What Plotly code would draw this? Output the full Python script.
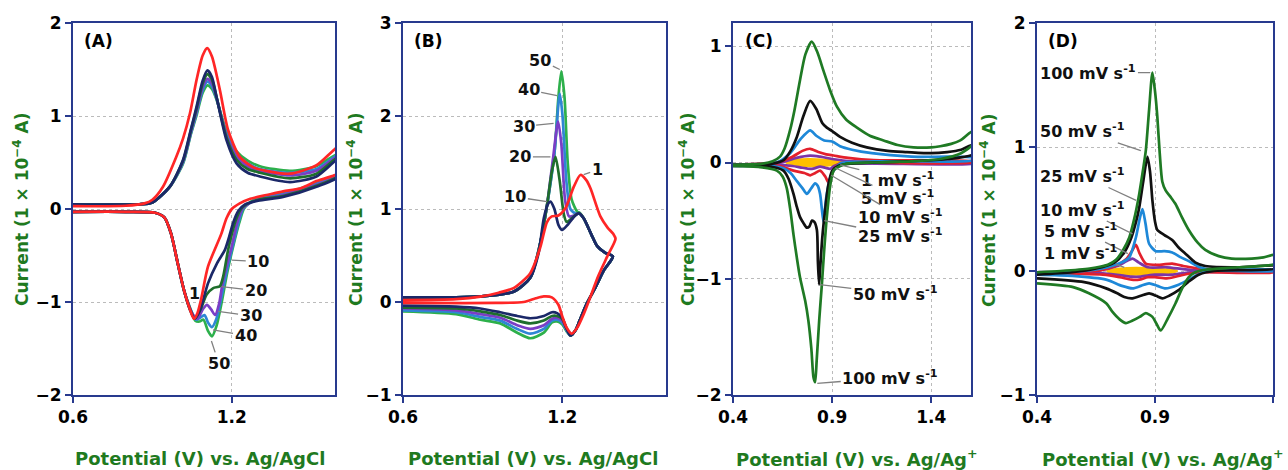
import plotly.graph_objects as go

# ---------------- Panel A (V vs Ag/AgCl, current in 1e-4 A) ----------------
a_rates = ["50", "40", "30", "20", "10", "1"]
a_1 = [(0.60, 0.03), (0.80, 0.035), (0.87, 0.06), (0.90, 0.10), (0.94, 0.24), (0.99, 0.56), (1.016, 0.76),
       (1.042, 1.03), (1.067, 1.39), (1.09, 1.65), (1.107, 1.73), (1.125, 1.64), (1.155, 1.28), (1.186, 0.85),
       (1.23, 0.56), (1.28, 0.45), (1.33, 0.41), (1.42, 0.38), (1.52, 0.47), (1.61, 0.68),
       (1.61, 0.40), (1.52, 0.30), (1.457, 0.22), (1.394, 0.19), (1.331, 0.15), (1.27, 0.11), (1.23, 0.06),
       (1.20, 0.0), (1.18, -0.10), (1.16, -0.27), (1.11, -0.62), (1.085, -0.96), (1.07, -1.12), (1.057, -1.18),
       (1.042, -1.08), (1.02, -0.88), (0.997, -0.60), (0.97, -0.26), (0.945, -0.09), (0.91, -0.04),
       (0.80, -0.03), (0.60, -0.03)]
a_10 = [(0.60, 0.05), (0.85, 0.05), (0.90, 0.07), (0.966, 0.24), (1.016, 0.53), (1.045, 0.85), (1.067, 1.10),
        (1.09, 1.38), (1.108, 1.49), (1.125, 1.42), (1.142, 1.21), (1.18, 0.74), (1.218, 0.49), (1.26, 0.39),
        (1.306, 0.35), (1.42, 0.29), (1.52, 0.35), (1.61, 0.55),
        (1.61, 0.36), (1.52, 0.24), (1.394, 0.13), (1.30, 0.09), (1.25, 0.05), (1.225, -0.02), (1.205, -0.15),
        (1.19, -0.30), (1.174, -0.44), (1.145, -0.58), (1.11, -0.80), (1.082, -1.07), (1.06, -1.18),
        (1.042, -1.08), (1.02, -0.88), (0.997, -0.60), (0.97, -0.26), (0.945, -0.09), (0.91, -0.04),
        (0.80, -0.03), (0.60, -0.03)]
a_20 = [(0.60, 0.05), (0.85, 0.05), (0.90, 0.07), (0.966, 0.24), (1.016, 0.52), (1.045, 0.84), (1.067, 1.08),
        (1.09, 1.35), (1.108, 1.45), (1.125, 1.39), (1.142, 1.21), (1.18, 0.77), (1.218, 0.53), (1.26, 0.43),
        (1.306, 0.39), (1.42, 0.33), (1.52, 0.38), (1.61, 0.57),
        (1.61, 0.37), (1.52, 0.25), (1.394, 0.14), (1.30, 0.10), (1.255, 0.05), (1.235, 0.0), (1.215, -0.12),
        (1.20, -0.27), (1.186, -0.44), (1.168, -0.72), (1.155, -0.83), (1.13, -0.85), (1.105, -0.92),
        (1.082, -1.08), (1.06, -1.18),
        (1.042, -1.08), (1.02, -0.88), (0.997, -0.60), (0.97, -0.26), (0.945, -0.09), (0.91, -0.04),
        (0.80, -0.03), (0.60, -0.03)]
a_30 = [(0.60, 0.05), (0.85, 0.05), (0.90, 0.07), (0.966, 0.24), (1.016, 0.51), (1.045, 0.82), (1.067, 1.05),
        (1.09, 1.31), (1.108, 1.40), (1.125, 1.35), (1.142, 1.20), (1.18, 0.79), (1.218, 0.56), (1.26, 0.46),
        (1.306, 0.41), (1.42, 0.36), (1.52, 0.41), (1.61, 0.58),
        (1.61, 0.38), (1.52, 0.26), (1.394, 0.15), (1.30, 0.10), (1.26, 0.05), (1.24, 0.0), (1.22, -0.15),
        (1.20, -0.40), (1.18, -0.62), (1.165, -0.80), (1.152, -1.02), (1.137, -1.14), (1.122, -1.08),
        (1.106, -1.03), (1.09, -1.08), (1.07, -1.18),
        (1.05, -1.12), (1.02, -0.88), (0.997, -0.60), (0.97, -0.26), (0.945, -0.09), (0.91, -0.04),
        (0.80, -0.03), (0.60, -0.03)]
a_40 = [(0.60, 0.05), (0.85, 0.05), (0.90, 0.07), (0.966, 0.24), (1.016, 0.50), (1.045, 0.81), (1.067, 1.03),
        (1.09, 1.28), (1.108, 1.37), (1.125, 1.32), (1.142, 1.19), (1.18, 0.81), (1.218, 0.59), (1.26, 0.49),
        (1.306, 0.43), (1.42, 0.39), (1.52, 0.43), (1.61, 0.59),
        (1.61, 0.39), (1.52, 0.27), (1.394, 0.16), (1.30, 0.11), (1.26, 0.05), (1.242, 0.0), (1.225, -0.15),
        (1.205, -0.38), (1.18, -0.68), (1.16, -0.96), (1.142, -1.18), (1.125, -1.27), (1.11, -1.22),
        (1.097, -1.14), (1.08, -1.17), (1.065, -1.19),
        (1.05, -1.12), (1.02, -0.88), (0.997, -0.60), (0.97, -0.26), (0.945, -0.09), (0.91, -0.04),
        (0.80, -0.03), (0.60, -0.03)]
a_50 = [(0.60, 0.05), (0.85, 0.05), (0.90, 0.07), (0.966, 0.24), (1.016, 0.49), (1.045, 0.80), (1.067, 1.01),
        (1.09, 1.25), (1.108, 1.33), (1.125, 1.29), (1.142, 1.18), (1.18, 0.83), (1.218, 0.62), (1.26, 0.52),
        (1.306, 0.46), (1.42, 0.41), (1.52, 0.46), (1.61, 0.60),
        (1.61, 0.40), (1.52, 0.28), (1.394, 0.17), (1.30, 0.12), (1.26, 0.05), (1.245, 0.0), (1.228, -0.15),
        (1.207, -0.38), (1.183, -0.68), (1.162, -1.00), (1.142, -1.26), (1.125, -1.37), (1.11, -1.31),
        (1.093, -1.19), (1.078, -1.21), (1.062, -1.20),
        (1.05, -1.12), (1.02, -0.88), (0.997, -0.60), (0.97, -0.26), (0.945, -0.09), (0.91, -0.04),
        (0.80, -0.03), (0.60, -0.03)]

# ---------------- Panel B ----------------
b_1 = [(0.60, 0.02), (0.80, 0.03), (0.891, 0.057), (0.96, 0.10), (1.016, 0.15), (1.079, 0.31), (1.117, 0.59),
       (1.142, 0.86), (1.16, 0.92), (1.185, 0.93), (1.212, 1.01), (1.243, 1.24), (1.268, 1.366), (1.29, 1.31),
       (1.306, 1.22), (1.343, 0.92), (1.37, 0.80), (1.392, 0.73), (1.40, 0.68),
       (1.369, 0.49), (1.335, 0.28), (1.306, 0.06), (1.28, -0.13), (1.255, -0.28), (1.235, -0.34),
       (1.215, -0.27), (1.199, -0.15), (1.185, -0.03), (1.16, 0.05), (1.13, 0.06), (1.10, 0.04), (1.054, 0.0),
       (0.95, -0.01), (0.60, -0.01)]
b_10 = [(0.60, 0.05), (0.80, 0.05), (0.891, 0.06), (1.016, 0.11), (1.079, 0.26), (1.11, 0.52), (1.13, 0.90),
        (1.145, 1.05), (1.155, 1.08), (1.17, 1.0), (1.185, 0.83), (1.199, 0.775), (1.22, 0.83), (1.245, 0.92),
        (1.262, 0.953), (1.28, 0.90), (1.31, 0.72), (1.331, 0.60), (1.36, 0.53), (1.39, 0.49),
        (1.356, 0.34), (1.325, 0.16), (1.293, -0.01), (1.265, -0.20), (1.25, -0.30), (1.23, -0.36),
        (1.215, -0.28), (1.199, -0.17), (1.18, -0.12), (1.161, -0.11), (1.13, -0.15), (1.079, -0.175),
        (1.03, -0.15), (0.966, -0.11), (0.891, -0.07), (0.80, -0.05), (0.60, -0.04)]
b_20 = [(0.60, 0.05), (0.80, 0.05), (0.891, 0.06), (1.016, 0.11), (1.079, 0.26), (1.11, 0.55), (1.14, 1.0),
        (1.16, 1.40), (1.174, 1.56), (1.19, 1.30), (1.205, 0.95), (1.216, 0.86), (1.235, 0.90),
        (1.262, 0.955), (1.28, 0.90), (1.31, 0.72), (1.331, 0.60), (1.36, 0.53), (1.39, 0.49),
        (1.356, 0.34), (1.325, 0.16), (1.293, -0.01), (1.265, -0.20), (1.25, -0.30), (1.23, -0.36),
        (1.215, -0.28), (1.199, -0.18), (1.18, -0.15), (1.161, -0.15), (1.13, -0.20), (1.079, -0.23),
        (1.03, -0.20), (0.966, -0.14), (0.891, -0.10), (0.80, -0.07), (0.60, -0.06)]
b_30 = [(0.60, 0.05), (0.80, 0.05), (0.891, 0.06), (1.016, 0.11), (1.079, 0.26), (1.11, 0.55), (1.14, 1.0),
        (1.165, 1.55), (1.184, 1.94), (1.196, 1.70), (1.21, 1.10), (1.225, 0.92), (1.245, 0.93),
        (1.262, 0.955), (1.28, 0.90), (1.31, 0.72), (1.331, 0.60), (1.36, 0.53), (1.39, 0.49),
        (1.356, 0.34), (1.325, 0.16), (1.293, -0.01), (1.265, -0.20), (1.25, -0.30), (1.23, -0.36),
        (1.215, -0.29), (1.199, -0.20), (1.18, -0.17), (1.161, -0.18), (1.13, -0.25), (1.079, -0.29),
        (1.03, -0.25), (0.966, -0.17), (0.891, -0.13), (0.80, -0.09), (0.60, -0.07)]
b_40 = [(0.60, 0.05), (0.80, 0.05), (0.891, 0.06), (1.016, 0.11), (1.079, 0.26), (1.11, 0.55), (1.14, 1.0),
        (1.17, 1.60), (1.19, 2.24), (1.20, 2.02), (1.215, 1.30), (1.23, 1.00), (1.25, 0.95),
        (1.262, 0.955), (1.28, 0.90), (1.31, 0.72), (1.331, 0.60), (1.36, 0.53), (1.39, 0.49),
        (1.356, 0.34), (1.325, 0.16), (1.293, -0.01), (1.265, -0.20), (1.25, -0.30), (1.23, -0.36),
        (1.215, -0.30), (1.199, -0.22), (1.18, -0.19), (1.161, -0.20), (1.13, -0.29), (1.079, -0.34),
        (1.03, -0.29), (0.966, -0.20), (0.891, -0.16), (0.80, -0.11), (0.60, -0.09)]
b_50 = [(0.60, 0.05), (0.80, 0.05), (0.891, 0.06), (1.016, 0.11), (1.079, 0.26), (1.11, 0.55), (1.14, 1.0),
        (1.17, 1.60), (1.185, 2.20), (1.196, 2.48), (1.208, 2.20), (1.22, 1.50), (1.235, 1.10),
        (1.256, 0.97), (1.265, 0.96), (1.28, 0.90), (1.31, 0.72), (1.331, 0.60), (1.36, 0.53), (1.39, 0.49),
        (1.356, 0.34), (1.325, 0.16), (1.293, -0.01), (1.265, -0.20), (1.25, -0.30), (1.23, -0.36),
        (1.215, -0.31), (1.199, -0.24), (1.18, -0.21), (1.161, -0.22), (1.13, -0.33), (1.079, -0.39),
        (1.03, -0.33), (0.966, -0.23), (0.891, -0.19), (0.80, -0.13), (0.60, -0.10)]

# ---------------- Panel C (V vs Ag/Ag+) ----------------
c_1 = [(0.67, 0.0), (0.72, 0.02), (0.78, 0.025), (0.85, 0.022), (0.92, 0.012), (0.96, 0.0),
       (0.92, -0.015), (0.85, -0.025), (0.78, -0.028), (0.72, -0.02), (0.67, 0.0)]
c_5 = [(0.40, -0.02), (0.64, 0.0), (0.72, 0.04), (0.789, 0.06), (0.84, 0.05), (0.90, 0.03), (1.0, 0.01),
       (1.61, 0.0),
       (1.61, -0.01), (0.95, -0.01), (0.91, -0.03), (0.89, -0.055), (0.865, -0.045), (0.839, -0.035),
       (0.81, -0.05), (0.789, -0.055), (0.75, -0.045), (0.70, -0.03), (0.64, -0.02), (0.40, -0.02)]
c_10 = [(0.40, -0.02), (0.62, 0.0), (0.70, 0.05), (0.75, 0.10), (0.789, 0.118), (0.83, 0.09), (0.87, 0.07),
        (0.907, 0.06), (0.98, 0.04), (1.11, 0.02), (1.61, 0.01),
        (1.61, 0.0), (1.0, 0.0), (0.935, -0.01), (0.915, -0.04), (0.895, -0.12), (0.881, -0.17),
        (0.865, -0.12), (0.839, -0.07), (0.815, -0.09), (0.789, -0.11), (0.76, -0.09), (0.705, -0.07),
        (0.637, -0.03), (0.40, -0.02)]
c_25 = [(0.40, -0.02), (0.62, 0.0), (0.688, 0.08), (0.74, 0.20), (0.789, 0.276), (0.82, 0.23), (0.86, 0.19),
        (0.90, 0.18), (0.94, 0.14), (1.0, 0.11), (1.10, 0.08), (1.30, 0.05), (1.61, 0.04),
        (1.61, 0.02), (1.30, 0.01), (1.109, 0.01), (0.96, 0.0), (0.94, -0.01), (0.915, -0.05), (0.89, -0.13),
        (0.87, -0.30), (0.856, -0.51), (0.848, -0.40), (0.839, -0.27), (0.827, -0.20), (0.814, -0.18),
        (0.795, -0.22), (0.772, -0.27), (0.75, -0.22), (0.722, -0.16), (0.69, -0.09), (0.654, -0.05),
        (0.60, -0.03), (0.40, -0.03)]
c_50 = [(0.40, -0.02), (0.60, -0.01), (0.655, 0.02), (0.69, 0.10), (0.722, 0.22), (0.755, 0.40), (0.789, 0.53),
        (0.82, 0.46), (0.85, 0.34), (0.873, 0.30), (0.90, 0.27), (0.94, 0.22), (1.0, 0.17), (1.075, 0.13),
        (1.18, 0.10), (1.277, 0.09), (1.40, 0.08), (1.48, 0.09), (1.55, 0.11), (1.61, 0.15),
        (1.61, 0.07), (1.48, 0.03), (1.277, 0.01), (0.99, -0.01), (0.93, -0.03), (0.90, -0.07), (0.88, -0.20),
        (0.865, -0.40), (0.85, -0.65), (0.84, -0.90), (0.834, -1.05), (0.828, -0.85), (0.823, -0.58),
        (0.81, -0.51), (0.798, -0.50), (0.785, -0.55), (0.772, -0.56), (0.755, -0.52), (0.738, -0.47),
        (0.72, -0.37), (0.705, -0.27), (0.68, -0.14), (0.654, -0.07), (0.57, -0.03), (0.40, -0.03)]
c_100 = [(0.40, -0.02), (0.55, -0.01), (0.60, 0.01), (0.637, 0.05), (0.66, 0.12), (0.688, 0.28), (0.71, 0.45),
         (0.738, 0.71), (0.765, 0.93), (0.797, 1.04), (0.825, 0.95), (0.856, 0.79), (0.89, 0.62),
         (0.924, 0.48), (0.97, 0.37), (1.025, 0.30), (1.09, 0.23), (1.159, 0.19), (1.23, 0.15), (1.31, 0.13),
         (1.40, 0.13), (1.445, 0.14), (1.50, 0.16), (1.546, 0.19), (1.61, 0.27),
         (1.61, 0.16), (1.55, 0.08), (1.445, 0.03), (1.30, 0.01), (1.109, 0.0), (0.974, -0.01), (0.94, -0.03),
         (0.907, -0.07), (0.89, -0.20), (0.873, -0.47), (0.86, -0.75), (0.848, -1.05), (0.835, -1.35),
         (0.822, -1.70), (0.814, -1.89), (0.806, -1.85), (0.795, -1.60), (0.78, -1.36), (0.764, -1.19),
         (0.738, -0.99), (0.722, -0.82), (0.705, -0.62), (0.69, -0.42), (0.671, -0.22), (0.65, -0.12),
         (0.621, -0.07), (0.536, -0.04), (0.40, -0.03)]

# ---------------- Panel D (V vs Ag/Ag+) ----------------
d_1 = [(0.70, 0.0), (0.75, 0.015), (0.82, 0.02), (0.90, 0.015), (0.96, 0.005), (0.99, 0.0),
       (0.96, -0.01), (0.90, -0.02), (0.82, -0.025), (0.75, -0.02), (0.70, 0.0)]
d_5 = [(0.40, -0.01), (0.65, 0.0), (0.74, 0.04), (0.78, 0.08), (0.805, 0.10), (0.83, 0.07), (0.87, 0.03),
       (0.95, 0.03), (1.05, 0.01), (1.41, 0.0),
       (1.41, -0.005), (1.05, -0.01), (0.97, -0.03), (0.90, -0.03), (0.84, -0.045), (0.80, -0.045),
       (0.74, -0.03), (0.65, -0.015), (0.40, -0.01)]
d_10 = [(0.40, -0.01), (0.65, 0.0), (0.73, 0.04), (0.78, 0.10), (0.805, 0.17), (0.819, 0.21), (0.835, 0.14),
        (0.861, 0.06), (0.92, 0.05), (0.973, 0.06), (1.02, 0.04), (1.085, 0.02), (1.14, 0.0), (1.41, 0.0),
        (1.41, -0.01), (1.10, -0.01), (1.05, -0.02), (1.0, -0.04), (0.95, -0.06), (0.90, -0.05),
        (0.87, -0.05), (0.833, -0.07), (0.80, -0.07), (0.75, -0.05), (0.68, -0.03), (0.40, -0.02)]
d_25 = [(0.40, -0.02), (0.60, 0.0), (0.70, 0.03), (0.76, 0.07), (0.791, 0.11), (0.819, 0.27), (0.835, 0.42),
        (0.847, 0.50), (0.86, 0.38), (0.875, 0.22), (0.903, 0.16), (0.94, 0.16), (0.973, 0.15), (1.01, 0.11),
        (1.043, 0.08), (1.09, 0.03), (1.14, 0.01), (1.41, 0.01),
        (1.41, 0.0), (1.12, 0.0), (1.08, -0.03), (1.043, -0.07), (1.0, -0.11), (0.945, -0.14), (0.91, -0.12),
        (0.875, -0.10), (0.84, -0.12), (0.805, -0.14), (0.76, -0.12), (0.693, -0.07), (0.55, -0.04),
        (0.40, -0.03)]
d_50 = [(0.40, -0.03), (0.55, -0.01), (0.65, 0.02), (0.73, 0.07), (0.77, 0.15), (0.80, 0.27), (0.82, 0.40),
        (0.833, 0.51), (0.85, 0.72), (0.868, 0.92), (0.879, 0.80), (0.889, 0.57), (0.90, 0.40), (0.91, 0.33),
        (0.94, 0.29), (0.973, 0.25), (1.0, 0.19), (1.029, 0.14), (1.07, 0.07), (1.113, 0.04), (1.25, 0.03),
        (1.41, 0.04),
        (1.41, 0.02), (1.15, 0.0), (1.085, -0.03), (1.04, -0.09), (1.0, -0.155), (0.96, -0.20),
        (0.931, -0.22), (0.905, -0.20), (0.875, -0.18), (0.84, -0.20), (0.805, -0.22), (0.77, -0.21),
        (0.74, -0.18), (0.693, -0.14), (0.60, -0.09), (0.40, -0.06)]
d_100 = [(0.40, -0.01), (0.50, 0.0), (0.623, 0.02), (0.70, 0.05), (0.735, 0.09), (0.765, 0.17), (0.791, 0.27),
         (0.812, 0.42), (0.833, 0.62), (0.848, 0.80), (0.861, 0.97), (0.875, 1.30), (0.889, 1.60),
         (0.90, 1.45), (0.91, 1.24), (0.92, 0.95), (0.931, 0.72), (0.945, 0.65), (0.965, 0.60),
         (0.987, 0.54), (1.015, 0.43), (1.043, 0.33), (1.08, 0.23), (1.113, 0.17), (1.17, 0.12),
         (1.225, 0.10), (1.31, 0.10), (1.36, 0.11), (1.41, 0.13),
         (1.41, 0.06), (1.25, 0.03), (1.113, 0.01), (1.07, -0.01), (1.043, -0.05), (1.015, -0.14),
         (0.987, -0.26), (0.955, -0.38), (0.924, -0.48), (0.905, -0.42), (0.889, -0.37), (0.861, -0.34),
         (0.835, -0.37), (0.805, -0.40), (0.777, -0.42), (0.75, -0.39), (0.72, -0.33), (0.693, -0.26),
         (0.62, -0.18), (0.553, -0.13), (0.40, -0.10)]

# ---------------- Colours ----------------
ab_colors = {"1": "#FF2626", "10": "#1B2868", "20": "#1E6E2C", "30": "#7A3EC6", "40": "#2E86D4", "50": "#2DB04B"}
cd_colors = {"1": "#FFC000", "5": "#7B35A8", "10": "#E3202C", "25": "#1E88D8", "50": "#111111", "100": "#1F7A24"}

AX_COL = "#283A8E"
TITLE_COL = "#1F7A1F"
GRID_COL = "#BBBBBB"
FONT = "DejaVu Sans"

fig = go.Figure()


def add(pts, color, xa, ya, width=2.7, fill=False):
    xs, ys = zip(*pts)
    fig.add_trace(go.Scatter(
        x=list(xs), y=list(ys), mode="lines",
        line=dict(color=color, width=width, shape="spline", smoothing=0.7),
        fill="toself" if fill else None, fillcolor=color if fill else None,
        xaxis=xa, yaxis=ya, hoverinfo="skip", showlegend=False))


for r, pts in zip(a_rates, [a_50, a_40, a_30, a_20, a_10, a_1]):
    add(pts, ab_colors[r], "x", "y")
for r, pts in zip(a_rates, [b_50, b_40, b_30, b_20, b_10, b_1]):
    add(pts, ab_colors[r], "x2", "y2")

cd_order = ["1", "5", "10", "25", "50", "100"]
for r, pts in zip(cd_order, [c_1, c_5, c_10, c_25, c_50, c_100]):
    add(pts, cd_colors[r], "x3", "y3", width=3.0 if r == "1" else 2.7, fill=(r == "1"))
for r, pts in zip(cd_order, [d_1, d_5, d_10, d_25, d_50, d_100]):
    add(pts, cd_colors[r], "x4", "y4", width=3.5 if r == "1" else 2.7, fill=(r == "1"))

W, H = 1288, 470
ydom = [1 - 395 / H, 1 - 23 / H]
x_doms = [[73 / W, 335 / W], [403 / W, 666 / W], [733 / W, 971 / W], [1037 / W, 1273 / W]]
x_ranges = [[0.6, 1.59], [0.6, 1.59], [0.4, 1.6], [0.4, 1.4]]
x_ticks = [[0.6, 1.2], [0.6, 1.2], [0.4, 0.9, 1.4], [0.4, 0.9, 1.4]]
y_ranges = [[-2, 2], [-1, 3], [-2, 1.2], [-1, 2]]
y_ticks = [[-2, -1, 0, 1, 2], [-1, 0, 1, 2, 3], [-2, -1, 0, 1], [-1, 0, 1, 2]]

layout = dict(width=W, height=H, margin=dict(l=0, r=0, t=0, b=0, autoexpand=False),
              paper_bgcolor="white", plot_bgcolor="white",
              font=dict(family=FONT, color="black"))

for i in range(4):
    sfx = "" if i == 0 else str(i + 1)
    common = dict(showline=True, linecolor=AX_COL, linewidth=2, mirror=True,
                  ticks="outside", ticklen=6, tickwidth=2, tickcolor=AX_COL,
                  showgrid=True, gridcolor=GRID_COL, gridwidth=1, griddash="dot",
                  zeroline=False, automargin=False,
                  tickfont=dict(family=FONT, size=17, color="black", weight="bold"))
    layout["xaxis" + sfx] = dict(domain=x_doms[i], range=x_ranges[i], tickvals=x_ticks[i],
                                 ticktext=[f"{v:.1f}" for v in x_ticks[i]],
                                 anchor="y" + sfx, **common)
    layout["yaxis" + sfx] = dict(domain=ydom, range=y_ranges[i], tickvals=y_ticks[i],
                                 anchor="x" + sfx, **common)

fig.update_layout(**layout)

ann = []
# axis titles
x_title_centers = [200, 533, 857, 1163]
x_title_texts = ["Potential (V) vs. Ag/AgCl", "Potential (V) vs. Ag/AgCl",
                 "Potential (V) vs. Ag/Ag<sup>+</sup>", "Potential (V) vs. Ag/Ag<sup>+</sup>"]
y_title_centers = [21, 355, 687, 988]
for i in range(4):
    ann.append(dict(text="<b>" + x_title_texts[i] + "</b>", xref="paper", yref="paper",
                    x=x_title_centers[i] / W, y=1 - 458 / H, xanchor="center", yanchor="middle",
                    showarrow=False, font=dict(family=FONT, size=18, color=TITLE_COL)))
    ann.append(dict(text="<b>Current (1 × 10<sup>−4</sup> A)</b>", xref="paper", yref="paper",
                    x=y_title_centers[i] / W, y=1 - 210 / H, xanchor="center", yanchor="middle",
                    textangle=-90, showarrow=False, font=dict(family=FONT, size=17, color=TITLE_COL)))

# panel letters
panel_letters = ["(A)", "(B)", "(C)", "(D)"]
panel_left = [82, 412, 743, 1046]
for i in range(4):
    ann.append(dict(text="<b>" + panel_letters[i] + "</b>", xref="paper", yref="paper",
                    x=panel_left[i] / W, y=1 - 41 / H, xanchor="left", yanchor="middle",
                    showarrow=False, font=dict(family=FONT, size=17, color="black")))

# curve labels with leader lines: (text, text_x, text_y, tip_x, tip_y)
a_labels = [("10", 1.30, -0.566, 1.20, -0.55), ("20", 1.29, -0.878, 1.161, -0.835),
            ("30", 1.271, -1.15, 1.148, -1.10), ("40", 1.252, -1.36, 1.129, -1.30),
            ("50", 1.151, -1.66, 1.123, -1.42)]
b_labels = [("50", 1.117, 2.60, 1.19, 2.50), ("40", 1.073, 2.28, 1.18, 2.22), ("30", 1.054, 1.89, 1.167, 1.92),
            ("20", 1.042, 1.56, 1.155, 1.56), ("10", 1.023, 1.13, 1.142, 1.08), ("1", 1.331, 1.42, 1.28, 1.37)]
c_labels = [("1 mV s<sup>-1</sup>", 1.231, -0.147, 0.94, -0.02),
            ("5 mV s<sup>-1</sup>", 1.231, -0.30, 0.915, -0.045),
            ("10 mV s<sup>-1</sup>", 1.243, -0.466, 0.895, -0.11),
            ("25 mV s<sup>-1</sup>", 1.243, -0.63, 0.86, -0.50),
            ("50 mV s<sup>-1</sup>", 1.218, -1.13, 0.838, -1.05),
            ("100 mV s<sup>-1</sup>", 1.193, -1.85, 0.825, -1.90)]
d_labels = [("100 mV s<sup>-1</sup>", 0.618, 1.60, 0.88, 1.60),
            ("50 mV s<sup>-1</sup>", 0.593, 1.13, 0.84, 0.97),
            ("25 mV s<sup>-1</sup>", 0.593, 0.77, 0.82, 0.57),
            ("10 mV s<sup>-1</sup>", 0.593, 0.50, 0.805, 0.30),
            ("5 mV s<sup>-1</sup>", 0.588, 0.33, 0.785, 0.14),
            ("1 mV s<sup>-1</sup>", 0.588, 0.15, 0.77, 0.03)]

for labels, xr, yr in [(a_labels, "x", "y"), (b_labels, "x2", "y2"), (c_labels, "x3", "y3"), (d_labels, "x4", "y4")]:
    for t, tx, ty, px, py in labels:
        ann.append(dict(text="<b>" + t + "</b>", xref=xr, yref=yr, x=px, y=py, axref=xr, ayref=yr,
                        ax=tx, ay=ty, showarrow=True, arrowhead=0, arrowwidth=1.3, arrowcolor="#808080",
                        font=dict(family=FONT, size=16, color="#111111"), standoff=0))

# label "1" in panel A without leader
ann.append(dict(text="<b>1</b>", xref="x", yref="y", x=1.06, y=-0.91, showarrow=False,
                font=dict(family=FONT, size=16, color="#111111")))

fig.update_layout(annotations=ann)
fig.write_html("out.html", config={"displayModeBar": False},
               post_script="document.body.style.margin='0px';document.body.style.overflow='hidden';")
